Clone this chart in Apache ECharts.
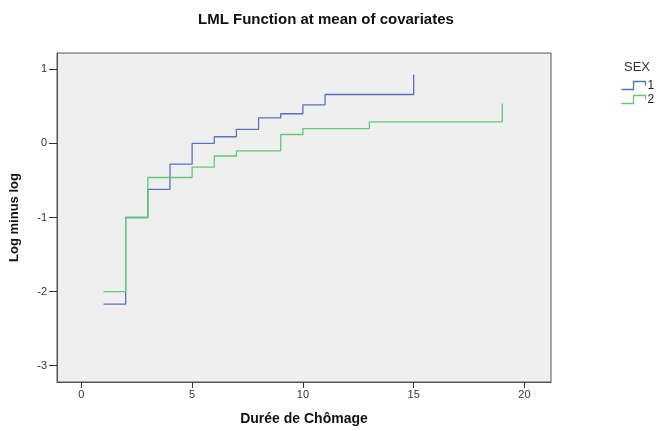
<!DOCTYPE html>
<html>
<head>
<meta charset="utf-8">
<script src="https://cdn.jsdelivr.net/npm/echarts@6/dist/echarts.min.js"></script>
<style>
  html, body { margin: 0; padding: 0; background: #fff; }
  #main { width: 660px; height: 431px; }
</style>
</head>
<body>
<div id="main"></div>
<script>
// donnees
const sex1Time = [1, 2, 3, 4, 5, 6, 7, 8, 9, 10, 11, 15];
const sex1Lml = [-2.17, -1.0, -0.62, -0.28, 0.0, 0.09, 0.19, 0.345, 0.40, 0.52, 0.66, 0.93];
const sex2Time = [1, 2, 3, 5, 6, 7, 9, 10, 13, 19];
const sex2Lml = [-2.0, -1.0, -0.46, -0.32, -0.17, -0.10, 0.12, 0.20, 0.29, 0.54];
const xTicks = [0, 5, 10, 15, 20];
const yTicks = [-3, -2, -1, 0, 1];
const seriesNames = ['1', '2'];
const seriesColors = ['#5a70c0', '#5fcb70'];

const chart = echarts.init(document.getElementById('main'));

function pairs(xs, ys) {
    return xs.map((x, i) => [x, ys[i]]);
}

const font = "'Liberation Sans', Arial, sans-serif";

const option = {
    backgroundColor: '#ffffff',
    animation: false,
    title: [
        {
            text: 'LML Function at mean of covariates',
            left: 193,
            top: 7,
            textStyle: { fontFamily: font, fontSize: 15, fontWeight: 'bold', color: '#111' }
        },
        {
            text: 'SEX',
            left: 619,
            top: 56,
            textStyle: { fontFamily: font, fontSize: 13, fontWeight: 'normal', color: '#333' }
        }
    ],
    legend: {
        orient: 'vertical',
        left: 614,
        top: 74,
        itemGap: 1,
        itemWidth: 26,
        itemHeight: 8,
        icon: 'path://M0,8 L12,8 L12,0 L24,0 L24,4',
        textStyle: { fontFamily: font, fontSize: 12, color: '#222', padding: [0, 0, 0, -4] },
        data: seriesNames.map((n, i) => ({
            name: n,
            itemStyle: { color: 'none', borderColor: seriesColors[i], borderWidth: 1.3 }
        }))
    },
    grid: {
        left: 51, top: 53, right: 109, bottom: 49,
        show: true,
        backgroundColor: '#efefef',
        borderColor: '#555',
        borderWidth: 1
    },
    xAxis: {
        type: 'value',
        min: -1.1,
        max: 21.2,
        name: 'Durée de Chômage',
        nameLocation: 'middle',
        nameGap: 30,
        nameTextStyle: { fontFamily: font, fontSize: 14, fontWeight: 'bold', color: '#111' },
        axisLine: { show: true, onZero: false, lineStyle: { color: '#555' } },
        axisTick: { show: true, length: 6, customValues: xTicks, lineStyle: { color: '#333' } },
        axisLabel: { customValues: xTicks, fontFamily: font, fontSize: 11, color: '#333', margin: 7 },
        splitLine: { show: false }
    },
    yAxis: {
        type: 'value',
        min: -3.22,
        max: 1.22,
        name: 'Log minus log',
        nameLocation: 'middle',
        nameGap: 36,
        nameTextStyle: { fontFamily: "'Liberation Sans Narrow', 'Liberation Sans', sans-serif", fontSize: 13, fontWeight: 'bold', color: '#111' },
        axisLine: { show: true, onZero: false, lineStyle: { color: '#555' } },
        axisTick: { show: true, length: 8, customValues: yTicks, lineStyle: { color: '#333' } },
        axisLabel: { customValues: yTicks, fontFamily: font, fontSize: 11, color: '#333', margin: 10 },
        splitLine: { show: false }
    },
    series: seriesNames.map((n, i) => ({
        name: n,
        type: 'line',
        step: 'end',
        showSymbol: false,
        color: seriesColors[i],
        lineStyle: { width: 1.3, color: seriesColors[i] },
        data: i === 0 ? pairs(sex1Time, sex1Lml) : pairs(sex2Time, sex2Lml)
    }))
};

chart.setOption(option);
</script>
</body>
</html>
